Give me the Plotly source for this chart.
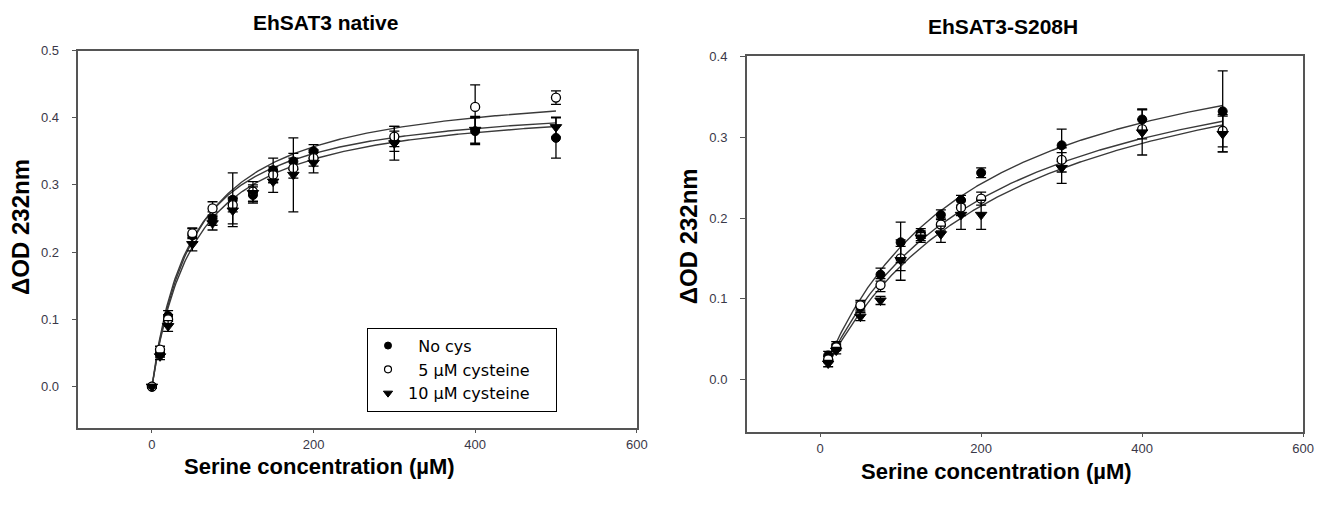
import numpy as np
import plotly.graph_objects as go

# ---------------- data ----------------
series_names = ["\u2007No cys", "\u20075 \u00b5M cysteine", "10 \u00b5M cysteine\u2007\u2007"]

# Left panel: EhSAT3 native
x_left = [0, 10, 20, 50, 75, 100, 125, 150, 175, 200, 300, 400, 500]
nocys_left = [0.0, 0.050, 0.105, 0.225, 0.250, 0.278, 0.285, 0.322, 0.335, 0.350, 0.365, 0.380, 0.370]
nocys_left_err = [0.002, 0.006, 0.008, 0.010, 0.010, 0.040, 0.012, 0.018, 0.012, 0.010, 0.015, 0.020, 0.030]
cys5_left = [0.0, 0.055, 0.100, 0.228, 0.265, 0.270, 0.290, 0.315, 0.325, 0.340, 0.372, 0.416, 0.430]
cys5_left_err = [0.002, 0.005, 0.007, 0.008, 0.010, 0.010, 0.015, 0.012, 0.015, 0.012, 0.015, 0.033, 0.010]
cys10_left = [0.0, 0.045, 0.090, 0.212, 0.243, 0.262, 0.288, 0.305, 0.315, 0.333, 0.362, 0.382, 0.386]
cys10_left_err = [0.002, 0.005, 0.008, 0.010, 0.010, 0.020, 0.012, 0.016, 0.055, 0.015, 0.025, 0.020, 0.015]
# Michaelis-Menten fit parameters (Vmax, Km) for each series
vmax_left = [0.430, 0.455, 0.428]
km_left = [48, 55, 53]

# Right panel: EhSAT3-S208H
x_right = [10, 20, 50, 75, 100, 125, 150, 175, 200, 300, 400, 500]
nocys_right = [0.030, 0.042, 0.090, 0.130, 0.170, 0.181, 0.204, 0.222, 0.256, 0.290, 0.322, 0.332]
nocys_right_err = [0.005, 0.005, 0.006, 0.008, 0.025, 0.006, 0.006, 0.006, 0.006, 0.020, 0.013, 0.050]
cys5_right = [0.025, 0.040, 0.092, 0.117, 0.150, 0.178, 0.192, 0.213, 0.224, 0.272, 0.310, 0.308]
cys5_right_err = [0.004, 0.004, 0.006, 0.008, 0.015, 0.006, 0.008, 0.010, 0.008, 0.015, 0.012, 0.020]
cys10_right = [0.020, 0.036, 0.078, 0.098, 0.148, 0.176, 0.180, 0.204, 0.204, 0.262, 0.306, 0.304]
cys10_right_err = [0.004, 0.004, 0.005, 0.005, 0.025, 0.006, 0.010, 0.018, 0.018, 0.019, 0.028, 0.022]
vmax_right = [0.462, 0.447, 0.457]
km_right = [181, 199, 225]

x_ticks = [0, 200, 400, 600]
y_ticks_left = [0.0, 0.1, 0.2, 0.3, 0.4, 0.5]
y_ticks_right = [0.0, 0.1, 0.2, 0.3, 0.4]

# ---------------- figure ----------------
W, H = 1332, 511
fig = go.Figure()

marker_styles = [
    dict(symbol="circle", size=9, color="black", line=dict(color="black", width=1)),
    dict(symbol="circle", size=9, color="white", line=dict(color="black", width=1.3)),
    dict(symbol="triangle-down", size=10, color="black", line=dict(color="black", width=1)),
]
legend_marker_styles = [
    dict(symbol="circle", size=7, color="black", line=dict(color="black", width=1)),
    dict(symbol="circle", size=7, color="white", line=dict(color="black", width=1.2)),
    dict(symbol="triangle-down", size=8, color="black", line=dict(color="black", width=1)),
]

panels = [
    ("x", "y", x_left, [nocys_left, cys5_left, cys10_left],
     [nocys_left_err, cys5_left_err, cys10_left_err], vmax_left, km_left),
    ("x2", "y2", x_right, [nocys_right, cys5_right, cys10_right],
     [nocys_right_err, cys5_right_err, cys10_right_err], vmax_right, km_right),
]

for xa, ya, xs, ys_list, errs_list, vmaxs, kms in panels:
    xc = np.linspace(min(xs), max(xs), 300)
    for v, k in zip(vmaxs, kms):
        fig.add_trace(go.Scatter(x=xc, y=v * xc / (k + xc), mode="lines",
                                 line=dict(color="#3a3a3a", width=1.4),
                                 xaxis=xa, yaxis=ya, showlegend=False, hoverinfo="skip"))
    for name, ys, errs, ms in zip(series_names, ys_list, errs_list, marker_styles):
        fig.add_trace(go.Scatter(x=xs, y=ys, mode="markers", name=name.strip("\u2007"),
                                 marker=ms,
                                 error_y=dict(type="data", array=errs, visible=True,
                                              color="black", thickness=1.3, width=5),
                                 xaxis=xa, yaxis=ya, showlegend=False))

# legend entries (smaller symbols as in the reference legend box)
for name, ms in zip(series_names, legend_marker_styles):
    fig.add_trace(go.Scatter(x=[None], y=[None], mode="markers", name=name, marker=ms,
                             xaxis="x", yaxis="y", showlegend=True, hoverinfo="skip"))

axis_common = dict(showline=True, linecolor="#555555", linewidth=1.6, mirror=True,
                   ticks="outside", tickwidth=1.3, tickcolor="#555555",
                   showgrid=False, zeroline=False,
                   tickfont=dict(family="Liberation Sans, Arial", size=13, color="#3a3848"))

fig.update_layout(
    width=W, height=H,
    margin=dict(l=0, r=0, t=0, b=0),
    paper_bgcolor="white", plot_bgcolor="white",
    xaxis=dict(domain=[71 / W, 634 / W], range=[-91, 600], tickvals=x_ticks, anchor="y",
               ticklen=3, **axis_common),
    yaxis=dict(domain=[1 - 419 / H, 1 - 36 / H], range=[-0.062, 0.5], tickvals=y_ticks_left,
               tickformat=".1f", anchor="x", ticklen=5, ticklabelstandoff=10, **axis_common),
    xaxis2=dict(domain=[745 / W, 1306 / W], range=[-91, 600], tickvals=x_ticks, anchor="y2",
                ticklen=3, **axis_common),
    yaxis2=dict(domain=[1 - 423 / H, 1 - 42 / H], range=[-0.065, 0.4], tickvals=y_ticks_right,
                tickformat=".1f", anchor="x2", ticklen=5, ticklabelstandoff=10, **axis_common),
    legend=dict(x=362 / W, y=1 - 317 / H, xanchor="left", yanchor="top",
                bordercolor="black", borderwidth=1, bgcolor="white",
                font=dict(family="DejaVu Sans, Verdana", size=16, color="black"),
                tracegroupgap=0, itemwidth=30),
    showlegend=True,
)

title_font = dict(family="Liberation Sans, Arial", size=21, color="black")
xtitle_font = dict(family="Liberation Sans, Arial", size=22, color="black")
ytitle_font = dict(family="Liberation Sans, Arial", size=24, color="black")

annotations = [
    dict(text="<b>EhSAT3 native</b>", x=320 / W, y=1 - 8 / H, font=title_font),
    dict(text="<b>EhSAT3-S208H</b>", x=1003 / W, y=1 - 12 / H, font=title_font),
    dict(text="<b>Serine concentration (\u00b5M)</b>", x=314 / W, y=1 - 458 / H, font=xtitle_font),
    dict(text="<b>Serine concentration (\u00b5M)</b>", x=997 / W, y=1 - 463 / H, font=xtitle_font),
    dict(text="<b>\u0394OD 232nm</b>", x=12 / W, y=1 - 215 / H, textangle=-90, font=ytitle_font),
    dict(text="<b>\u0394OD 232nm</b>", x=687 / W, y=1 - 224 / H, textangle=-90, font=ytitle_font),
]
for a in annotations:
    a.update(xref="paper", yref="paper", showarrow=False, xanchor="center", yanchor="middle")
fig.update_layout(annotations=annotations)

fig.write_html("out.html")
